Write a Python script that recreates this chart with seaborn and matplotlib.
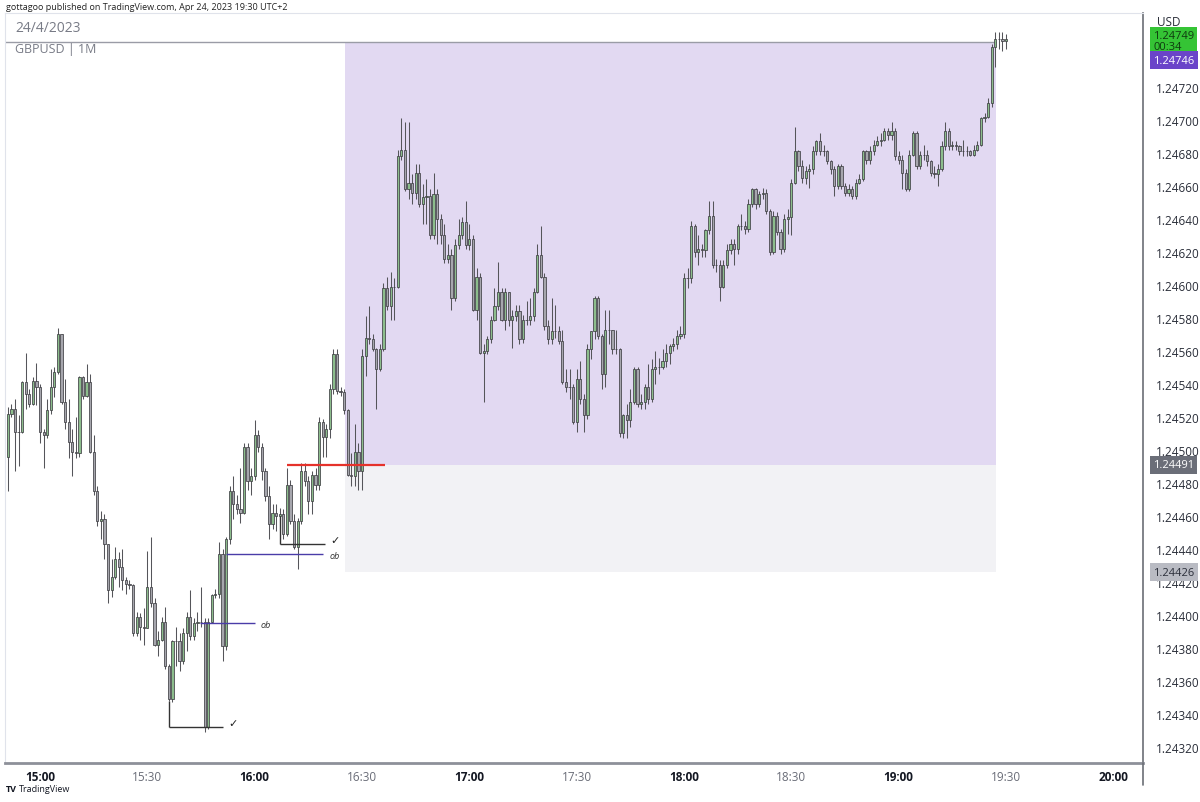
import numpy as np
import pandas as pd
import seaborn as sns
import matplotlib.pyplot as plt
import matplotlib.transforms as mtransforms
from matplotlib.lines import Line2D

sns.set_theme(style="white")
plt.rcParams['font.family'] = ['Open Sans', 'DejaVu Sans']

# GBPUSD 1 minute candles, 14:51 -> 19:30, prices in points (1e-5)
first_open = 124496
close_pts = [
    124522, 124525, 124511, 124511, 124541, 124534, 124528, 124542, 124538, 124511,
    124509, 124524, 124538, 124547, 124570, 124529, 124517, 124505, 124499, 124498,
    124544, 124533, 124541, 124499, 124475, 124457, 124458, 124443, 124415, 124423,
    124434, 124429, 124421, 124419, 124418, 124389, 124399, 124393, 124392, 124417,
    124407, 124382, 124385, 124396, 124369, 124349, 124384, 124384, 124372, 124389,
    124399, 124387, 124395, 124396, 124396, 124332, 124396, 124412, 124413, 124437,
    124381, 124446, 124475, 124467, 124464, 124462, 124502, 124481, 124484, 124509,
    124502, 124487, 124472, 124455, 124462, 124460, 124461, 124449, 124479, 124457,
    124441, 124457, 124487, 124481, 124469, 124485, 124479, 124517, 124508, 124513,
    124537, 124558, 124536, 124535, 124524, 124485, 124484, 124499, 124487, 124557,
    124568, 124567, 124561, 124549, 124561, 124598, 124587, 124599, 124599, 124678,
    124682, 124658, 124662, 124656, 124668, 124649, 124653, 124654, 124630, 124655,
    124640, 124630, 124616, 124618, 124592, 124624, 124630, 124638, 124624, 124628,
    124585, 124605, 124559, 124560, 124567, 124579, 124587, 124596, 124579, 124596,
    124579, 124581, 124584, 124567, 124579, 124579, 124581, 124596, 124618, 124605,
    124575, 124567, 124572, 124572, 124566, 124541, 124538, 124538, 124517, 124543,
    124531, 124521, 124561, 124572, 124592, 124569, 124546, 124573, 124573, 124561,
    124561, 124510, 124521, 124518, 124529, 124549, 124528, 124529, 124538, 124531,
    124549, 124550, 124550, 124554, 124559, 124563, 124564, 124569, 124570, 124604,
    124604, 124636, 124620, 124622, 124621, 124633, 124642, 124612, 124612, 124599,
    124612, 124621, 124625, 124622, 124636, 124636, 124634, 124649, 124658, 124649,
    124655, 124656, 124645, 124620, 124642, 124632, 124622, 124640, 124641, 124662,
    124681, 124672, 124665, 124669, 124670, 124681, 124687, 124681, 124681, 124675,
    124670, 124660, 124672, 124660, 124656, 124658, 124654, 124662, 124664, 124681,
    124676, 124681, 124685, 124687, 124688, 124693, 124691, 124693, 124678, 124676,
    124668, 124658, 124679, 124692, 124672, 124679, 124679, 124675, 124668, 124667,
    124670, 124684, 124693, 124684, 124685, 124684, 124681, 124681, 124681, 124679,
    124682, 124685, 124701, 124702, 124710, 124744, 124749, 124749, 124748, 124749,
]
high_pts = [
    124526, 124528, 124531, 124521, 124542, 124559, 124537, 124544, 124553, 124540,
    124513, 124531, 124549, 124550, 124574, 124570, 124543, 124531, 124513, 124520,
    124545, 124545, 124552, 124546, 124509, 124478, 124463, 124461, 124443, 124434,
    124441, 124438, 124440, 124423, 124421, 124419, 124402, 124401, 124404, 124439,
    124447, 124410, 124390, 124399, 124405, 124370, 124385, 124393, 124389, 124392,
    124402, 124415, 124398, 124402, 124417, 124398, 124398, 124413, 124416, 124444,
    124440, 124447, 124478, 124484, 124473, 124489, 124504, 124504, 124489, 124518,
    124512, 124504, 124489, 124478, 124467, 124467, 124465, 124464, 124489, 124482,
    124461, 124459, 124492, 124492, 124484, 124487, 124489, 124520, 124519, 124516,
    124540, 124561, 124561, 124538, 124537, 124525, 124498, 124516, 124504, 124561,
    124581, 124587, 124570, 124562, 124564, 124601, 124605, 124608, 124604, 124682,
    124701, 124699, 124699, 124667, 124673, 124673, 124661, 124664, 124658, 124668,
    124658, 124643, 124637, 124625, 124622, 124628, 124640, 124641, 124651, 124637,
    124630, 124610, 124607, 124564, 124569, 124581, 124598, 124614, 124598, 124598,
    124596, 124585, 124588, 124588, 124582, 124590, 124592, 124598, 124625, 124636,
    124607, 124579, 124592, 124588, 124575, 124573, 124549, 124549, 124540, 124549,
    124554, 124534, 124564, 124572, 124593, 124593, 124570, 124585, 124585, 124573,
    124573, 124562, 124522, 124528, 124537, 124550, 124550, 124534, 124540, 124552,
    124555, 124560, 124556, 124561, 124564, 124564, 124568, 124573, 124575, 124607,
    124610, 124639, 124637, 124630, 124625, 124634, 124651, 124651, 124616, 124615,
    124615, 124625, 124628, 124628, 124637, 124643, 124639, 124652, 124659, 124659,
    124657, 124659, 124658, 124646, 124645, 124644, 124634, 124643, 124646, 124664,
    124696, 124682, 124676, 124672, 124673, 124684, 124688, 124692, 124685, 124682,
    124676, 124672, 124673, 124673, 124662, 124661, 124660, 124664, 124667, 124682,
    124682, 124684, 124688, 124690, 124692, 124695, 124695, 124699, 124695, 124681,
    124679, 124670, 124682, 124693, 124693, 124681, 124685, 124682, 124676, 124672,
    124673, 124687, 124699, 124695, 124687, 124687, 124685, 124688, 124684, 124682,
    124685, 124687, 124702, 124704, 124713, 124746, 124753, 124753, 124753, 124752,
]
low_pts = [
    124475, 124520, 124487, 124490, 124510, 124525, 124526, 124527, 124527, 124504,
    124489, 124507, 124522, 124532, 124546, 124528, 124513, 124495, 124484, 124495,
    124496, 124531, 124532, 124498, 124473, 124454, 124446, 124434, 124407, 124411,
    124422, 124417, 124415, 124413, 124416, 124387, 124387, 124385, 124382, 124392,
    124405, 124381, 124375, 124384, 124367, 124348, 124347, 124369, 124366, 124370,
    124378, 124385, 124385, 124390, 124393, 124329, 124331, 124395, 124410, 124410,
    124372, 124379, 124443, 124458, 124461, 124456, 124461, 124476, 124473, 124482,
    124499, 124482, 124469, 124446, 124452, 124451, 124452, 124446, 124448, 124455,
    124440, 124428, 124455, 124478, 124461, 124461, 124476, 124476, 124496, 124496,
    124507, 124534, 124534, 124533, 124522, 124484, 124478, 124478, 124476, 124476,
    124545, 124564, 124560, 124525, 124548, 124560, 124585, 124579, 124579, 124598,
    124676, 124657, 124652, 124649, 124652, 124647, 124637, 124637, 124628, 124628,
    124625, 124625, 124613, 124613, 124585, 124590, 124622, 124628, 124622, 124621,
    124584, 124579, 124558, 124529, 124558, 124565, 124578, 124585, 124578, 124573,
    124575, 124562, 124578, 124564, 124565, 124576, 124576, 124578, 124595, 124604,
    124573, 124564, 124564, 124568, 124564, 124540, 124535, 124531, 124516, 124511,
    124528, 124511, 124519, 124555, 124567, 124567, 124537, 124538, 124564, 124558,
    124558, 124508, 124507, 124507, 124514, 124528, 124526, 124525, 124525, 124528,
    124529, 124540, 124546, 124549, 124550, 124552, 124560, 124561, 124567, 124568,
    124598, 124601, 124617, 124612, 124617, 124617, 124631, 124610, 124608, 124590,
    124598, 124610, 124619, 124612, 124619, 124633, 124631, 124632, 124647, 124646,
    124647, 124652, 124643, 124618, 124619, 124630, 124619, 124620, 124631, 124630,
    124661, 124669, 124662, 124661, 124659, 124667, 124679, 124679, 124678, 124673,
    124667, 124654, 124658, 124658, 124654, 124654, 124652, 124652, 124661, 124663,
    124673, 124673, 124679, 124684, 124684, 124687, 124688, 124688, 124676, 124673,
    124658, 124657, 124657, 124678, 124670, 124670, 124676, 124672, 124666, 124665,
    124660, 124669, 124682, 124682, 124682, 124682, 124679, 124678, 124678, 124678,
    124678, 124681, 124684, 124699, 124701, 124708, 124732, 124743, 124742, 124743,
]
minutes = list(range(-9, 271))  # minutes after 15:00

tick_minutes = [0, 30, 60, 90, 120, 150, 180, 210, 240, 270, 300]
tick_labels = ["15:00", "15:30", "16:00", "16:30", "17:00", "17:30",
               "18:00", "18:30", "19:00", "19:30", "20:00"]
price_ticks = [1.24320, 1.24340, 1.24360, 1.24380, 1.24400, 1.24420, 1.24440,
               1.24460, 1.24480, 1.24500, 1.24520, 1.24540, 1.24560, 1.24580,
               1.24600, 1.24620, 1.24640, 1.24660, 1.24680, 1.24700, 1.24720]

# zone levels
zone_top = 1.24747
zone_mid = 1.24491
zone_bot = 1.24426
zone_start, zone_end = 85.2, 267.2

df = pd.DataFrame({"minute": minutes,
                   "close": np.array(close_pts) / 1e5,
                   "high": np.array(high_pts) / 1e5,
                   "low": np.array(low_pts) / 1e5})
df["open"] = df["close"].shift(1).fillna(first_open / 1e5)
df["high"] = df[["high", "open", "close"]].max(axis=1)
df["low"] = df[["low", "open", "close"]].min(axis=1)
df["up"] = df["close"] >= df["open"]

W, H = 1200, 803
fig = plt.figure(figsize=(12, 8.03), dpi=100)
ax = fig.add_axes([5 / W, 1 - 764 / H, 1138 / W, 750 / H])
ax.set_facecolor("white")

ax.set_xlim(-9.8, 308.3)
ax.set_ylim(1.243103, 1.247648)

# zones
ax.fill_between([zone_start, zone_end], zone_mid, zone_top, color="#e2d9f2", lw=0, zorder=0)
ax.fill_between([zone_start, zone_end], zone_bot, zone_mid, color="#f2f2f5", lw=0, zorder=0)
ax.hlines(zone_top, -9.8, zone_end, color="#9a9ca6", lw=1, zorder=1)

# candles
ax.vlines(df["minute"], df["low"], df["high"], color="#55555a", lw=0.75, zorder=2)
body_lo = df[["open", "close"]].min(axis=1)
body_h = (df["close"] - df["open"]).abs()
colors = np.where(df["up"], "#8cbd8c", "#a6a6ad")
ax.bar(df["minute"], body_h, bottom=body_lo, width=0.62, color=colors,
       edgecolor="#3f3f44", linewidth=0.55, zorder=3)

# drawings
ax.hlines(zone_mid, 69, 96.4, color="#e5322b", lw=1.6, zorder=4)
ax.hlines(1.24443, 67.1, 79.7, color="#333333", lw=1, zorder=4)
ax.vlines(67.1, 1.24443, 1.24460, color="#333333", lw=1, zorder=4)
ax.text(81, 1.24445, "✓", fontsize=8, color="#222222", va="center", ha="left")
ax.hlines(1.24437, 52, 79.1, color="#4a3ca8", lw=1, zorder=4)
ax.text(81, 1.24436, "ob", fontsize=6.5, style="italic", color="#333333", va="center")
ax.hlines(1.24395, 44.7, 60, color="#4a3ca8", lw=1, zorder=4)
ax.text(61.5, 1.24394, "ob", fontsize=6.5, style="italic", color="#333333", va="center")
ax.hlines(1.24332, 36, 51, color="#333333", lw=1, zorder=4)
ax.vlines(36, 1.24332, 1.24348, color="#333333", lw=1, zorder=4)
ax.text(52.5, 1.24334, "✓", fontsize=8, color="#222222", va="center", ha="left")

# axes styling
for s in ["left", "top"]:
    ax.spines[s].set_color("#e0e3eb")
    ax.spines[s].set_linewidth(0.8)
ax.spines["bottom"].set_color("#8d9099")
ax.spines["bottom"].set_linewidth(2)
ax.spines["right"].set_color("#6b6e76")
ax.spines["right"].set_linewidth(1.2)

ax.yaxis.tick_right()
ax.set_yticks(price_ticks)
ax.set_yticklabels([f"{p:.5f}" for p in price_ticks])
ax.tick_params(axis="y", length=0, pad=9, labelsize=8.5, labelcolor="#2a2e39")
ax.set_xticks(tick_minutes)
ax.set_xticklabels(tick_labels)
ax.tick_params(axis="x", length=0, pad=5, labelsize=8.5)
for lab in ax.get_xticklabels():
    if lab.get_text().endswith(":00"):
        lab.set_fontweight("bold")
        lab.set_color("#131722")
    else:
        lab.set_color("#6a6d78")
ax.grid(False)

# price labels on the axis
blend = mtransforms.blended_transform_factory(ax.transAxes, ax.transData)
lx = 1 + 10 / 1138
ax.text(lx, (764 - 42) / 750, "1.24749\n00:34", transform=ax.transAxes,
        fontsize=8, color="#0f3a0f", va="center", ha="left", linespacing=1.0,
        bbox=dict(boxstyle="square,pad=0.3", fc="#35c435", ec="none"))
ax.text(lx, (764 - 61) / 750, "1.24746", transform=ax.transAxes,
        fontsize=8, color="white", va="center", ha="left",
        bbox=dict(boxstyle="square,pad=0.3", fc="#6a44c9", ec="none"))
ax.text(lx, zone_mid, "1.24491", transform=blend,
        fontsize=8, color="white", va="center", ha="left",
        bbox=dict(boxstyle="square,pad=0.3", fc="#6b6e78", ec="none"))
ax.text(lx, zone_bot, "1.24426", transform=blend,
        fontsize=8, color="#2a2e39", va="center", ha="left",
        bbox=dict(boxstyle="square,pad=0.3", fc="#b9bbc3", ec="none"))

# texts
fig.text(6 / W, 1 - 8 / H, "gottagoo published on TradingView.com, Apr 24, 2023 19:30 UTC+2",
         fontsize=6.5, color="#222222", va="center")
fig.text(15 / W, 1 - 29 / H, "24/4/2023", fontsize=10, color="#787b86", va="center")
fig.text(15 / W, 1 - 50 / H, "GBPUSD | 1M", fontsize=9, color="#787b86", va="center")
fig.text(1157 / W, 1 - 22 / H, "USD", fontsize=8.5, color="#2a2e39", va="center")
fig.text(6 / W, 1 - 790 / H, "TV", fontsize=6.5, fontweight="bold", color="#131722", va="center")
fig.text(19 / W, 1 - 790 / H, "TradingView", fontsize=6.5, color="#131722", va="center")
fig.add_artist(Line2D([1143 / W, 1143 / W], [1 - 764 / H, 1 - 786 / H],
                      color="#6b6e76", lw=1.2))

fig.savefig("out.png", dpi=100)
